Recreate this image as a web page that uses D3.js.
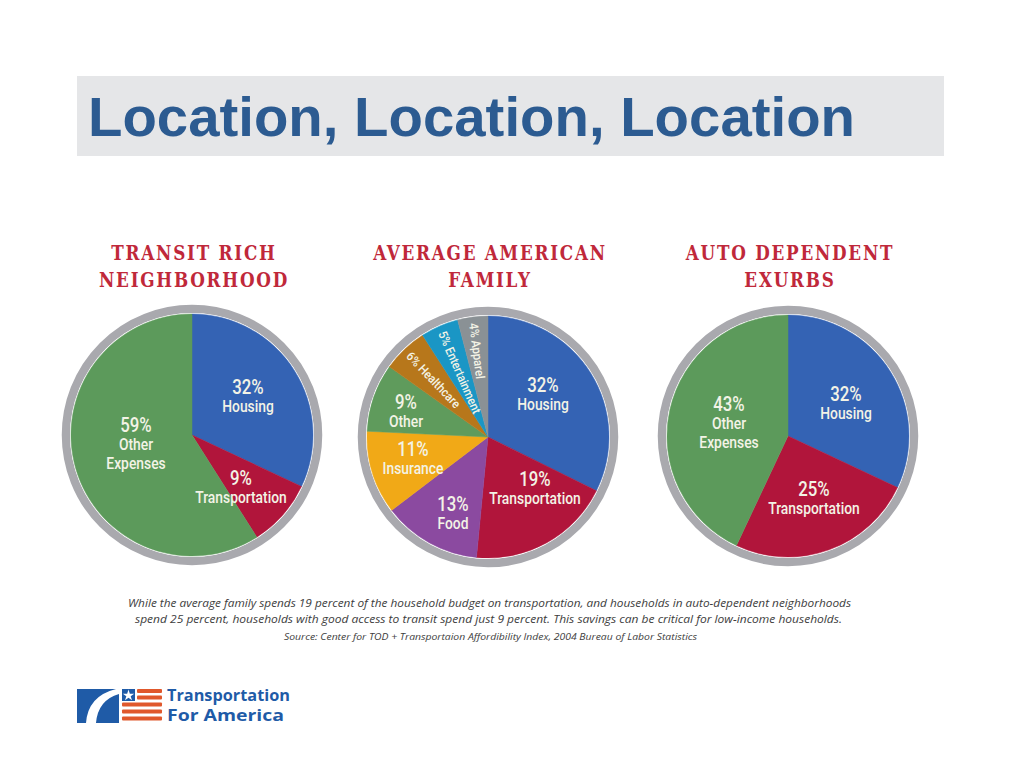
<!DOCTYPE html>
<html>
<head>
<meta charset="utf-8">
<script src="https://cdn.jsdelivr.net/npm/d3@7"></script>
<style>
  html, body { margin: 0; padding: 0; background: #ffffff; }
  svg { display: block; }
</style>
</head>
<body>
<svg id="chart" width="1020" height="765"></svg>
<script>
// ---------- DATA ----------
const pageTitle = "Location, Location, Location";

const chartTitles = [
  ["TRANSIT RICH", "NEIGHBORHOOD"],
  ["AVERAGE AMERICAN", "FAMILY"],
  ["AUTO DEPENDENT", "EXURBS"]
];

const transitCategories = ["Housing", "Transportation", "Other Expenses"];
const transitValues     = [32, 9, 59];

const averageCategories = ["Housing", "Transportation", "Food", "Insurance", "Other", "Healthcare", "Entertainment", "Apparel"];
const averageValues     = [32, 19, 13, 11, 9, 6, 5, 4];

const exurbCategories = ["Housing", "Transportation", "Other Expenses"];
const exurbValues     = [32, 25, 43];

const captionLines = [
  "While the average family spends 19 percent of the household budget on transportation, and households in auto-dependent neighborhoods",
  "spend 25 percent, households with good access to transit spend just 9 percent. This savings can be critical for low-income households.",
  "Source: Center for TOD + Transportaion Affordibility Index, 2004 Bureau of Labor Statistics"
];

const logoLines = ["Transportation", "For America"];

// ---------- STYLE / LAYOUT ----------
const colorByCategory = {
  "Housing": "#3463b4",
  "Transportation": "#b1153b",
  "Other Expenses": "#5c9a5b",
  "Food": "#8b4aa0",
  "Insurance": "#f1a917",
  "Other": "#5f9b5c",
  "Healthcare": "#b7771b",
  "Entertainment": "#1a96c5",
  "Apparel": "#8a9195"
};

// label placement relative to pie centre (percent-line baseline); rotated = radial small labels
const labelLayouts = [
  { "Housing": {dx: 56, dy: -41}, "Transportation": {dx: 49, dy: 50}, "Other Expenses": {dx: -56, dy: -3, wrap: true} },
  { "Housing": {dx: 55, dy: -45}, "Transportation": {dx: 47, dy: 49}, "Food": {dx: -35, dy: 74},
    "Insurance": {dx: -75, dy: 19}, "Other": {dx: -82, dy: -28},
    "Healthcare": {rotated: true}, "Entertainment": {rotated: true}, "Apparel": {rotated: true} },
  { "Housing": {dx: 58, dy: -35}, "Transportation": {dx: 26, dy: 60}, "Other Expenses": {dx: -59, dy: -25, wrap: true} }
];

const pies = [
  { cats: transitCategories, vals: transitValues, cx: 192, cy: 435 },
  { cats: averageCategories, vals: averageValues, cx: 488, cy: 437 },
  { cats: exurbCategories,   vals: exurbValues,   cx: 788, cy: 436 }
];

const R = 121;
const labelFont = "Roboto, 'DejaVu Sans Condensed', sans-serif";
const labelColor = "#f3f3e6";
const labelSqueeze = 0.84;
const lineGap = 18.5;

const svg = d3.select("#chart");

// ---------- HEADER ----------
svg.append("rect").attr("x", 77).attr("y", 76).attr("width", 867).attr("height", 80).attr("fill", "#e5e6e8");
svg.append("text")
  .attr("x", 88).attr("y", 136)
  .attr("font-family", "'Liberation Sans', Arial, sans-serif")
  .attr("font-weight", "bold")
  .attr("font-size", 56)
  .attr("fill", "#2c5b91")
  .attr("textLength", 767).attr("lengthAdjust", "spacingAndGlyphs")
  .text(pageTitle);

// ---------- PIES ----------
const pieGen = d3.pie().sort(null).value(d => d.value).startAngle(0).endAngle(2 * Math.PI);
const arcGen = d3.arc().innerRadius(0).outerRadius(R);

pies.forEach((p, i) => {
  const g = svg.append("g").attr("transform", `translate(${p.cx},${p.cy})`);

  // chart title (slab serif, condensed by horizontal squeeze)
  const tg = svg.append("g").attr("transform", `translate(${p.cx + 2},0) scale(0.8,1)`);
  const t = tg.append("text")
    .attr("text-anchor", "middle")
    .attr("font-family", "'DejaVu Serif', serif")
    .attr("font-weight", "bold")
    .attr("font-size", 21)
    .attr("letter-spacing", 2.2)
    .attr("fill", "#c0283a");
  chartTitles[i].forEach((line, k) => {
    t.append("tspan").attr("x", 0).attr("y", 260 + k * 27).text(line);
  });

  // grey ring
  g.append("circle").attr("r", 126).attr("fill", "none").attr("stroke", "#a9a9ae").attr("stroke-width", 8.5);
  g.append("circle").attr("r", 122).attr("fill", "#ffffff");

  const data = p.cats.map((c, k) => ({ cat: c, value: p.vals[k] }));
  const arcs = pieGen(data);

  g.selectAll("path.slice").data(arcs).enter().append("path")
    .attr("class", "slice")
    .attr("d", arcGen)
    .attr("fill", d => colorByCategory[d.data.cat])
    .attr("stroke", d => colorByCategory[d.data.cat])
    .attr("stroke-width", 0.5);

  const layout = labelLayouts[i];
  arcs.forEach(a => {
    const L = layout[a.data.cat];
    if (!L) return;
    const pct = a.data.value + "%";
    if (L.rotated) {
      const mid = (a.startAngle + a.endAngle) / 2;
      const midDeg = mid * 180 / Math.PI;
      const r0 = 115;
      const x0 = r0 * Math.sin(mid), y0 = -r0 * Math.cos(mid);
      g.append("text")
        .attr("transform", `translate(${x0},${y0}) rotate(${midDeg - 270}) scale(0.9,1)`)
        .attr("dy", "0.35em")
        .attr("font-family", labelFont)
        .attr("font-weight", 500)
        .attr("font-size", 12.5)
        .attr("fill", labelColor)
        .text(pct + " " + a.data.cat);
      return;
    }
    const lines = L.wrap ? a.data.cat.split(" ") : [a.data.cat];
    const lg = g.append("g").attr("transform", `translate(${L.dx},${L.dy}) scale(${labelSqueeze},1)`);
    const txt = lg.append("text")
      .attr("text-anchor", "middle")
      .attr("font-family", labelFont)
      .attr("font-weight", 500)
      .attr("fill", labelColor);
    txt.append("tspan").attr("x", 0).attr("y", 0).attr("font-size", 20).text(pct);
    lines.forEach((ln, k) => {
      txt.append("tspan").attr("x", 0).attr("y", lineGap * (k + 1)).attr("font-size", 16.5).text(ln);
    });
  });
});

// ---------- CAPTION ----------
const capY = [607, 623, 640];
const capX = [[128, 851], [135, 842], [284, 697]];
captionLines.forEach((line, k) => {
  svg.append("text")
    .attr("x", capX[k][0]).attr("y", capY[k])
    .attr("font-family", "'Open Sans', 'Liberation Sans', sans-serif")
    .attr("font-style", "italic")
    .attr("font-size", k === 2 ? 9 : 10.5)
    .attr("fill", "#3d3d3d")
    .attr("textLength", capX[k][1] - capX[k][0]).attr("lengthAdjust", "spacingAndGlyphs")
    .text(line);
});

// ---------- LOGO ----------
const logo = svg.append("g");
logo.append("rect").attr("x", 77).attr("y", 689).attr("width", 42).attr("height", 34).attr("fill", "#1f5ba7");
logo.append("path")
  .attr("d", "M 119 689 L 116 689 Q 88 696 86 723 L 96 723 Q 98 700 119 694 Z")
  .attr("fill", "#ffffff");
logo.append("rect").attr("x", 122).attr("y", 689).attr("width", 13).attr("height", 12).attr("fill", "#1f5ba7");
logo.append("path")
  .attr("d", d3.symbol(d3.symbolStar, 40)())
  .attr("transform", "translate(128.5,695.5)")
  .attr("fill", "#ffffff");
const stripes = [[137, 689], [137, 695.5], [122, 702.5], [122, 709.5], [122, 716.5]];
stripes.forEach(s => {
  logo.append("rect").attr("x", s[0]).attr("y", s[1]).attr("width", 162 - s[0]).attr("height", 4)
    .attr("rx", 1).attr("fill", "#e0582c");
});
logo.append("text").attr("x", 167).attr("y", 701)
  .attr("font-family", "'Open Sans', 'Liberation Sans', sans-serif").attr("font-weight", 700)
  .attr("font-size", 15.5).attr("fill", "#1f5ba7")
  .attr("textLength", 123).attr("lengthAdjust", "spacingAndGlyphs")
  .text(logoLines[0]);
logo.append("text").attr("x", 167).attr("y", 721)
  .attr("font-family", "'Open Sans', 'Liberation Sans', sans-serif").attr("font-weight", 700)
  .attr("font-size", 16).attr("fill", "#1f5ba7")
  .attr("textLength", 117).attr("lengthAdjust", "spacingAndGlyphs")
  .text(logoLines[1]);
</script>
</body>
</html>
